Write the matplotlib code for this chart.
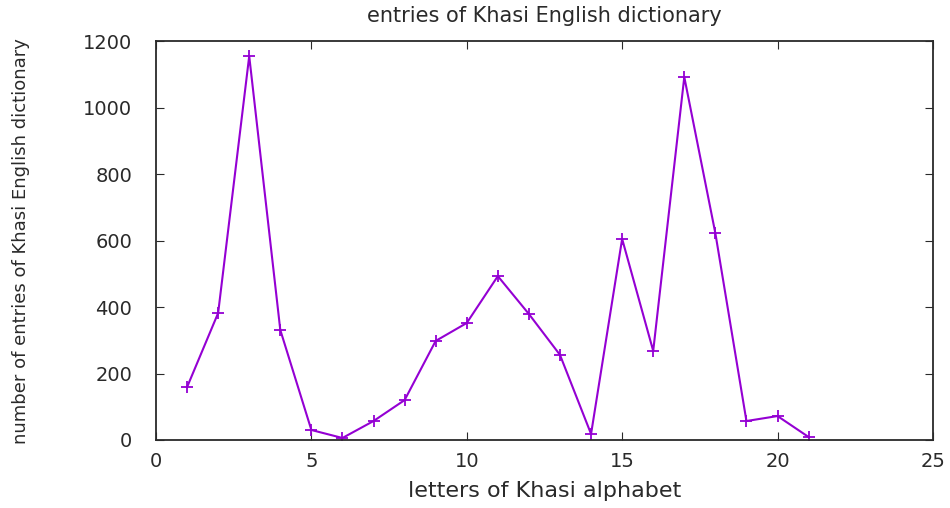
import matplotlib.pyplot as plt

# entries per letter of the Khasi alphabet
letters = list(range(1, 22))
entries = [159, 382, 1155, 331, 30, 6, 57, 120, 298, 352, 493,
           379, 256, 18, 605, 268, 1092, 622, 57, 72, 9]

x_ticks = [0, 5, 10, 15, 20, 25]
y_ticks = [0, 200, 400, 600, 800, 1000, 1200]

fig = plt.figure(figsize=(9.5, 5.08), dpi=100)
ax = fig.add_axes([0.1642, 0.1339, 0.8178, 0.7851])

ax.plot(letters, entries, color="#9400d3", marker="+", markersize=9,
        markeredgewidth=1.3, linewidth=1.5)

ax.set_xlim(0, 25)
ax.set_ylim(0, 1200)
ax.set_xticks(x_ticks)
ax.set_yticks(y_ticks)
ax.tick_params(direction="in", top=True, right=True, length=6,
               labelsize=14, colors="#2a2a2a")
ax.tick_params(axis="x", pad=9)
ax.tick_params(axis="y", pad=17)
for s in ax.spines.values():
    s.set_linewidth(1.3)
    s.set_color("#2a2a2a")

ax.set_title("entries of Khasi English dictionary", fontsize=15,
             color="#2a2a2a", pad=14)
ax.set_xlabel("letters of Khasi alphabet", fontsize=16, color="#2a2a2a",
              labelpad=7)
ax.set_ylabel("number of entries of Khasi English dictionary", fontsize=13,
              color="#2a2a2a")
ax.yaxis.set_label_coords(-0.162, 0.5)

plt.savefig("out.png")
